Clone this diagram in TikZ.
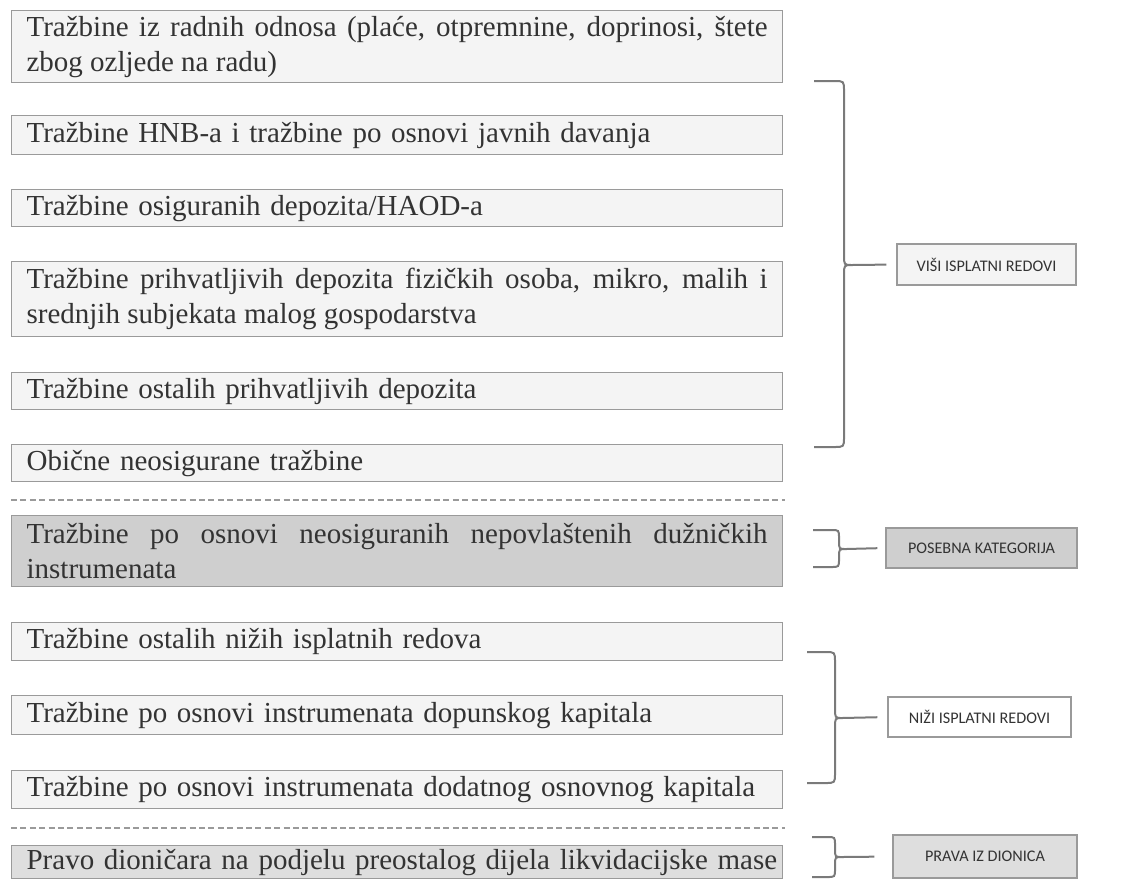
\documentclass[tikz,border=0pt]{standalone}
\usepackage{fontspec}
\setmainfont{Liberation Serif}
\newfontfamily\labfont{Carlito}
\definecolor{txt}{HTML}{333333}
\definecolor{edge}{HTML}{9A9A9A}
\definecolor{boxfill}{HTML}{F4F4F4}
\definecolor{darkfill}{HTML}{CFCFCF}
\definecolor{midfill}{HTML}{DEDEDE}
\definecolor{brcol}{HTML}{7A7A7A}
\newcommand{\mybrace}[8]{%
 \draw[brc] (#1,#4) -- ({#2-#7},#4) .. controls (#2,#4) .. (#2,{#4+#7}) -- (#2,{#5-#7}) .. controls (#2,#5) .. (#3,#5) .. controls (#2,#5) .. (#2,{#5+#7}) -- (#2,{#6-#7}) .. controls (#2,#6) .. ({#2-#7},#6) -- (#1,#6);
 \coordinate (#8) at (#3,#5);}
\begin{document}
\begin{tikzpicture}[x=0.5pt,y=-0.5pt,
  claim/.style={draw=edge, line width=0.6pt, fill=boxfill, text=txt, anchor=north west,
    text width=370.5pt, inner xsep=7.5pt, inner ysep=0pt, align=left,
    font=\fontsize{14.5}{17.5}\selectfont},
  lab/.style={draw=edge, line width=0.7pt, fill=boxfill, text=txt, inner sep=0pt,
    font=\labfont\fontsize{8.1}{9}\selectfont},
  brc/.style={draw=brcol, line width=1pt},
  conn/.style={draw=brcol, line width=1pt},
  sep/.style={draw=edge, line width=0.6pt, dash pattern=on 3pt off 1.7pt}]
\useasboundingbox (0,0) rectangle (1134,879);
\fill[white] (0,0) rectangle (1134,879);

\node[claim, align=justify, minimum height=36pt] (c1) at (11,10) {Tražbine iz radnih odnosa (plaće, otpremnine, doprinosi, štete\linebreak zbog ozljede na radu)};
\node[claim, minimum height=19.5pt] (c2) at (11,115) {\mbox{Tražbine HNB-a i tražbine po osnovi javnih davanja}};
\node[claim, minimum height=18.5pt] (c3) at (11,189) {\mbox{Tražbine osiguranih depozita/HAOD-a}};
\node[claim, align=justify, minimum height=37.5pt] (c4) at (11,261) {Tražbine prihvatljivih depozita fizičkih osoba, mikro, malih i\linebreak srednjih subjekata malog gospodarstva};
\node[claim, minimum height=18.5pt] (c5) at (11,372) {\mbox{Tražbine ostalih prihvatljivih depozita}};
\node[claim, minimum height=18.5pt] (c6) at (11,444) {\mbox{Obične neosigurane tražbine}};
\draw[sep] (11,500) -- (785,500);
\node[claim, align=justify, fill=darkfill, minimum height=35.5pt] (c7) at (11,515) {Tražbine po osnovi neosiguranih nepovlaštenih dužničkih\linebreak instrumenata};
\node[claim, minimum height=19pt] (c8) at (11,622) {\mbox{Tražbine ostalih nižih isplatnih redova}};
\node[claim, minimum height=19.5pt] (c9) at (11,695) {\mbox{Tražbine po osnovi instrumenata dopunskog kapitala}};
\node[claim, minimum height=19pt] (c10) at (11,770) {\mbox{Tražbine po osnovi instrumenata dodatnog osnovnog kapitala}};
\draw[sep] (11,828) -- (785,828);
\node[claim, fill=midfill, minimum height=16.5pt] (c11) at (11,845) {\mbox{Pravo dioničara na podjelu preostalog dijela likvidacijske mase}};

\node[lab, minimum width=89.5pt, minimum height=20.5pt] (l1) at (986.5,264.5) {VIŠI ISPLATNI REDOVI};
\node[lab, fill=darkfill, minimum width=95.5pt, minimum height=20pt] (l2) at (981.5,548) {POSEBNA KATEGORIJA};
\node[lab, fill=white, minimum width=91.5pt, minimum height=20pt] (l3) at (979.5,717) {NIŽI ISPLATNI REDOVI};
\node[lab, fill=midfill, minimum width=92pt, minimum height=21.5pt] (l4) at (985,856.5) {PRAVA IZ DIONICA};

\mybrace{814}{844}{852}{81}{265}{447}{10}{t1}
\mybrace{813}{839}{846}{530}{549}{567}{8}{t2}
\mybrace{807}{835}{842}{652}{718}{783}{10}{t3}
\mybrace{812}{835}{842}{837}{857}{877}{8}{t4}

\draw[conn, shorten >=5pt] (t1) -- (l1.west);
\draw[conn, shorten >=4pt] (t2) -- (l2.west);
\draw[conn, shorten >=5pt] (t3) -- (l3.west);
\draw[conn, shorten >=9pt] (t4) -- (l4.west);
\end{tikzpicture}
\end{document}
